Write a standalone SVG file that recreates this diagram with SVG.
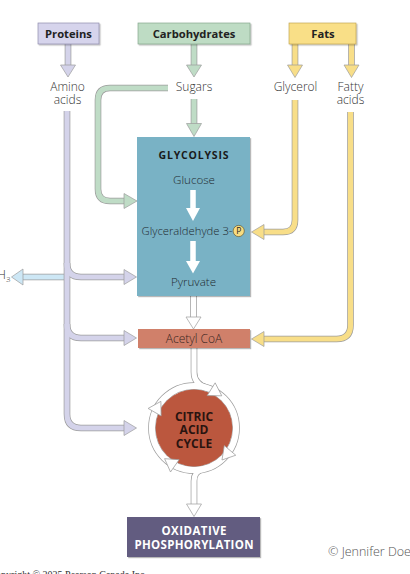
<svg xmlns="http://www.w3.org/2000/svg" xmlns:xlink="http://www.w3.org/1999/xlink" width="410" height="574" viewBox="0 0 410 574">
<style>
text{font-family:"Open Sans","Liberation Sans",sans-serif}
.lbl{font-size:12px;font-weight:300;fill:#333;text-anchor:middle}
.ttl{font-size:11.2px;font-weight:700;fill:#222;text-anchor:middle}
.ol{fill:none;stroke:#9c9c9c;stroke-width:6.6}
.pu{fill:none;stroke:#d4d3ea;stroke-width:5.2}
.gr{fill:none;stroke:#bfdcc6;stroke-width:5.2}
.ye{fill:none;stroke:#f8de88;stroke-width:5.2}
.bl{fill:none;stroke:#cde7f5;stroke-width:5.2}
.wh{fill:none;stroke:#ffffff;stroke-width:5.2}
.hpu{fill:#d4d3ea;stroke:#9c9c9c;stroke-width:0.7}
.hgr{fill:#bfdcc6;stroke:#9c9c9c;stroke-width:0.7}
.hye{fill:#f8de88;stroke:#9c9c9c;stroke-width:0.7}
.hbl{fill:#cde7f5;stroke:#9c9c9c;stroke-width:0.7}
.hwh{fill:#ffffff;stroke:#9c9c9c;stroke-width:0.7}
</style>
<defs>
<filter id="ds" x="-10%" y="-10%" width="130%" height="140%">
<feDropShadow dx="1.2" dy="1.2" stdDeviation="0.7" flood-color="#000" flood-opacity="0.28"/>
</filter>
<path id="pr1" d="M68,44 V66"/>
<path id="cb1" d="M194,44 V66"/>
<path id="ft1" d="M295,44 V66"/>
<path id="ft2" d="M351.5,44 V66"/>
<path id="sg1" d="M194,99 V124"/>
<path id="sg2" d="M168,88 H110 Q98,88 98,100 V189 Q98,201 110,201 H125"/>
<path id="gly" d="M295,100 V220 Q295,232 283,232 H264"/>
<path id="fat" d="M350.5,112 V325 Q350.5,339 336.5,339 H264"/>
<path id="pm" d="M67,111 V414 Q67,428 81,428 H124"/>
<path id="pb1" d="M67,263 Q67,277 81,277 H124"/>
<path id="pb2" d="M67,324 Q67,338 81,338 H124"/>
<path id="nh" d="M66,277 H22"/>
<path id="ga" d="M193.5,296 V318"/>
<path id="ent" d="M194,348 V372 C194,381 199,386 208.4,388.5"/>
<path id="ext" d="M202.7,469.1 C197,471 194,474 194,481 V505"/>
</defs>

<g id="connectors">
<use href="#pr1" class="ol"/><use href="#pr1" class="pu"/>
<polygon class="hpu" points="60.5,65 75.5,65 68,77"/>
<use href="#cb1" class="ol"/><use href="#cb1" class="gr"/>
<polygon class="hgr" points="186.5,65 201.5,65 194,77"/>
<use href="#ft1" class="ol"/><use href="#ft1" class="ye"/>
<polygon class="hye" points="287.5,65 302.5,65 295,77.5"/>
<use href="#ft2" class="ol"/><use href="#ft2" class="ye"/>
<polygon class="hye" points="344,65 359,65 351.5,77.5"/>
<use href="#sg1" class="ol"/><use href="#sg1" class="gr"/>
<polygon class="hgr" points="186.5,123.5 201.5,123.5 194,136.5"/>
<use href="#sg2" class="ol"/><use href="#sg2" class="gr"/>
<polygon class="hgr" points="124,193.5 124,208.5 137,201"/>
<use href="#gly" class="ol"/><use href="#gly" class="ye"/>
<polygon class="hye" points="264,224.5 264,239.5 251.5,232"/>
<use href="#fat" class="ol"/><use href="#fat" class="ye"/>
<polygon class="hye" points="264,331.5 264,346.5 251.5,339"/>
<use href="#nh" class="ol"/><use href="#nh" class="bl"/>
<polygon class="hbl" points="23,269 23,285 11.5,277"/>
<use href="#pm" class="ol"/><use href="#pb1" class="ol"/><use href="#pb2" class="ol"/>
<use href="#pm" class="pu"/><use href="#pb1" class="pu"/><use href="#pb2" class="pu"/>
<polygon class="hpu" points="124,269.5 124,284.5 136.5,277"/>
<polygon class="hpu" points="124,330.5 124,345.5 136.5,338"/>
<polygon class="hpu" points="124,420.5 124,435.5 136.5,428"/>
<use href="#ga" class="ol"/><use href="#ga" class="wh"/>
<polygon class="hwh" points="186,317 201,317 193.5,329"/>
<circle cx="194" cy="428" r="42" fill="none" stroke="#9c9c9c" stroke-width="7.6"/>
<use href="#ent" class="ol"/><use href="#ext" class="ol"/>
<circle cx="194" cy="428" r="42" fill="none" stroke="#fff" stroke-width="6.2"/>
<use href="#ent" class="wh"/><use href="#ext" class="wh"/>
<polygon class="hwh" points="186.5,504 201.5,504 194,516.5"/>
</g>

<g id="proteins">
<rect x="38" y="23" width="61" height="21" fill="#d6d4ec" stroke="#8f8cad" stroke-width="0.7" filter="url(#ds)"/>
<text class="ttl" x="68.5" y="38.3">Proteins</text>
</g>
<g id="carbohydrates">
<rect x="138" y="23" width="112" height="21" fill="#bedcc4" stroke="#86a78e" stroke-width="0.7" filter="url(#ds)"/>
<text class="ttl" x="194" y="38.3">Carbohydrates</text>
</g>
<g id="fats">
<rect x="289" y="23" width="67" height="21" fill="#f9df87" stroke="#c2a653" stroke-width="0.7" filter="url(#ds)"/>
<text class="ttl" x="323" y="38.3">Fats</text>
</g>
<g id="amino-acids">
<text class="lbl" x="67.5" y="91">Amino</text>
<text class="lbl" x="67.5" y="104">acids</text>
</g>
<g id="sugars"><text class="lbl" x="194" y="91">Sugars</text></g>
<g id="glycerol"><text class="lbl" x="295.5" y="91">Glycerol</text></g>
<g id="fatty-acids">
<text class="lbl" x="350.5" y="91">Fatty</text>
<text class="lbl" x="350.5" y="104">acids</text>
</g>

<g id="glycolysis">
<rect x="137" y="137" width="113" height="159" fill="#79b2c5" filter="url(#ds)"/>
<text class="ttl" x="193.5" y="158.5" textLength="70" lengthAdjust="spacing" style="font-size:10.5px;fill:#1a1a1a">GLYCOLYSIS</text>
<text class="lbl" x="194" y="183.5" style="font-size:11.6px;fill:#1f2a30">Glucose</text>
<path d="M193,190 V209" stroke="#fff" stroke-width="5.5"/>
<polygon points="186,208 200,208 193,221" fill="#fff"/>
<text class="lbl" x="141.5" y="234.5" textLength="91" lengthAdjust="spacingAndGlyphs" style="font-size:11.6px;text-anchor:start;fill:#1f2a30">Glyceraldehyde 3-</text>
<circle cx="238.7" cy="231" r="5.6" fill="#f8dc80" stroke="#5a4a20" stroke-width="0.6"/>
<text x="238.7" y="234.2" text-anchor="middle" style="font-size:8.5px;font-weight:400;fill:#222">P</text>
<path d="M193,241 V262" stroke="#fff" stroke-width="5.5"/>
<polygon points="186,261 200,261 193,273.5" fill="#fff"/>
<text class="lbl" x="193.5" y="285.5" style="font-size:11.6px;fill:#1f2a30">Pyruvate</text>
</g>

<g id="nh3">
<text x="10.5" y="278.8" text-anchor="end" style="font-size:12px;font-weight:300;fill:#333">NH<tspan dy="3.5" style="font-size:8px">3</tspan></text>
</g>

<g id="acetyl-coa">
<rect x="138" y="329" width="112" height="19" fill="#d0806a" filter="url(#ds)"/>
<text class="lbl" x="194" y="342.7" style="fill:#3a2622">Acetyl CoA</text>
</g>

<g id="citric-acid-cycle">
<circle cx="194" cy="428" r="38.4" fill="#bb573e"/>
<g fill="#fff" stroke="#9c9c9c" stroke-width="0.7">
<polygon points="188,378.5 200.5,386 188,393.5" transform="rotate(32 194 428)"/>
<polygon points="188,378.5 200.5,386 188,393.5" transform="rotate(130 194 428)"/>
<polygon points="188,378.5 200.5,386 188,393.5" transform="rotate(215 194 428)"/>
<polygon points="188,378.5 200.5,386 188,393.5" transform="rotate(300 194 428)"/>
</g>
<text class="ttl" x="194" y="420.8" style="font-size:12px;fill:#2a1410">CITRIC</text>
<text class="ttl" x="194" y="434.3" style="font-size:12px;fill:#2a1410">ACID</text>
<text class="ttl" x="194" y="447.8" style="font-size:12px;fill:#2a1410">CYCLE</text>
</g>

<g id="oxidative-phosphorylation">
<rect x="127" y="517" width="133" height="40" fill="#625b80" filter="url(#ds)"/>
<text class="ttl" x="194" y="534.8" textLength="65" lengthAdjust="spacing" style="font-size:11.5px;fill:#fff">OXIDATIVE</text>
<text class="ttl" x="194" y="548.8" textLength="119" lengthAdjust="spacing" style="font-size:11.5px;fill:#fff">PHOSPHORYLATION</text>
</g>

<g id="credits">
<text x="328" y="556" style="font-size:12.5px;font-weight:300;fill:#555">© Jennifer Doe</text>
<text x="147" y="578" text-anchor="end" style="font-family:'Liberation Serif',serif;font-size:10px;fill:#333">Copyright © 2025 Pearson Canada Inc.</text>
</g>
</svg>
